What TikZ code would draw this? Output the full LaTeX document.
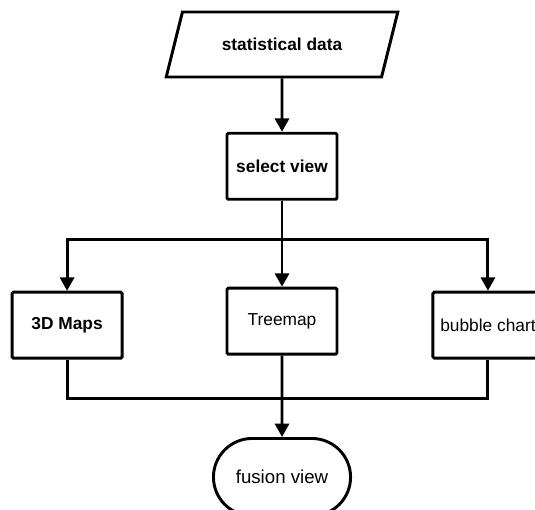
\documentclass[tikz,border=0pt]{standalone}
\usepackage{fontspec}
\setmainfont{Liberation Sans}
\usetikzlibrary{shapes.geometric,shapes.misc,arrows.meta,positioning}

\begin{document}
\begin{tikzpicture}[
        x=0.75pt, y=-0.75pt,
        >={Triangle[width=10.5pt,length=10pt]},
        line width=2.2pt,
        every node/.style={font=\fontsize{13}{15}\selectfont},
        heavy/.style={font=\fontsize{13}{15}\selectfont\bfseries},
        box/.style={draw, rectangle, rounded corners=1pt, minimum width=82.5pt, minimum height=49.5pt},
        io/.style={draw, trapezium, trapezium left angle=64, trapezium right angle=116,
                   trapezium stretches=true, minimum width=174pt, minimum height=48.75pt},
        term/.style={draw, rounded rectangle, minimum width=109.5pt, minimum height=58pt,
                     font=\fontsize{14}{16}\selectfont}
        ]
        \useasboundingbox (0,0) rectangle (535,510);

        \node[io, heavy] (data) at (282,44.5) {statistical data};
        \node[box, heavy] (select) [below=40pt of data] {select view};
        \node[box] (treemap) [below=64.5pt of select] {Treemap};
        \node[box, heavy] (maps) [left=76.5pt of treemap, yshift=-3pt] {3D Maps};
        \node[box] (bubble) [right=69.75pt of treemap, yshift=-3pt] {bubble chart};
        \node[term] (fusion) [below=61pt of treemap] {fusion view};

        \coordinate[below=29.25pt of select] (split);
        \coordinate[below=32.25pt of treemap] (join);

        \draw[->] (data) -- (select);
        \draw (select) -- (split);
        \draw[->] (split) -| (maps);
        \draw[->] (split) -| (bubble);
        \draw[->] (split) -- (treemap);

        \draw (maps) |- (join);
        \draw (bubble) |- (join);
        \draw[->] (treemap) -- (fusion);
\end{tikzpicture}
\end{document}
